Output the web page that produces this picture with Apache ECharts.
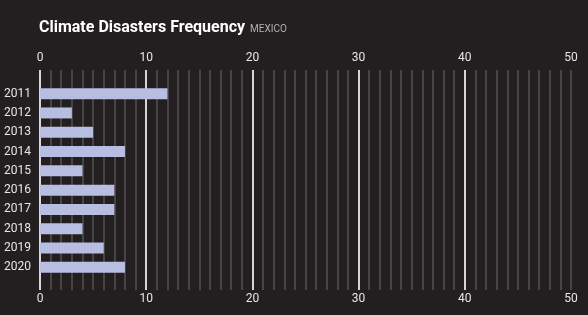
<!DOCTYPE html>
<html>
<head>
<meta charset="utf-8">
<script src="https://cdn.jsdelivr.net/npm/echarts@6/dist/echarts.min.js"></script>
<style>
  html, body { margin: 0; padding: 0; background: #231f20; }
  #chart { width: 588px; height: 315px; }
</style>
</head>
<body>
<div id="chart"></div>
<script>
var years = ['2011', '2012', '2013', '2014', '2015', '2016', '2017', '2018', '2019', '2020']
var disasters = [12, 3, 5, 8, 4, 7, 7, 4, 6, 8] // number of climate disasters
var countryName = 'MEXICO'

var font = 'Roboto, sans-serif'
var labelColor = '#e6e6e6'

var chart = echarts.init(document.getElementById('chart'))
chart.setOption({
  backgroundColor: '#231f20',
  animation: false,
  title: {
    left: 39,
    top: 19,
    padding: 0,
    text: '{main|Climate Disasters Frequency} {sub|' + countryName + '}',
    textStyle: {
      rich: {
        main: { fontFamily: font, fontWeight: 'bold', fontSize: 16, color: '#ffffff' },
        sub: { fontFamily: font, fontWeight: 'normal', fontSize: 10, color: '#b0b0b0', padding: [3, 0, 0, 0] }
      }
    }
  },
  grid: [
    // grid for the gridlines + axis labels
    { left: 40, right: 17, top: 70, bottom: 25 },
    // grid for the bars
    { left: 40, right: 17, top: 84, bottom: 38 }
  ],
  xAxis: [
    {
      gridIndex: 0,
      type: 'value',
      position: 'top',
      min: 0,
      max: 50,
      interval: 10,
      axisLine: { show: false },
      axisTick: { show: false },
      axisLabel: { color: labelColor, fontFamily: font, fontSize: 12, margin: 6 },
      splitLine: {
        show: true,
        lineStyle: { color: ['#d6d6d6', '#d6d6d6', '#d6d6d6', '#d6d6d6', '#d6d6d6', '#454545'], width: 2 }
      },
      minorTick: { show: false, splitNumber: 10 },
      minorSplitLine: { show: true, lineStyle: { color: '#454545', width: 2 } }
    },
    {
      gridIndex: 0,
      type: 'value',
      position: 'bottom',
      min: 0,
      max: 50,
      interval: 10,
      axisLine: { show: false },
      axisTick: { show: false },
      axisLabel: { color: labelColor, fontFamily: font, fontSize: 12, margin: 3 },
      splitLine: { show: false }
    },
    {
      gridIndex: 1,
      type: 'value',
      min: 0,
      max: 50,
      show: false
    }
  ],
  yAxis: [
    {
      gridIndex: 0,
      type: 'value',
      show: false
    },
    {
      gridIndex: 1,
      type: 'category',
      inverse: true,
      data: years,
      axisLine: { show: false },
      axisTick: { show: false },
      axisLabel: { color: labelColor, fontFamily: font, fontSize: 12, margin: 9 }
    }
  ],
  series: [{
    type: 'bar',
    xAxisIndex: 2,
    yAxisIndex: 1,
    data: disasters,
    barWidth: '57%',
    itemStyle: { color: '#b8bde2' }
  }]
})
</script>
</body>
</html>
